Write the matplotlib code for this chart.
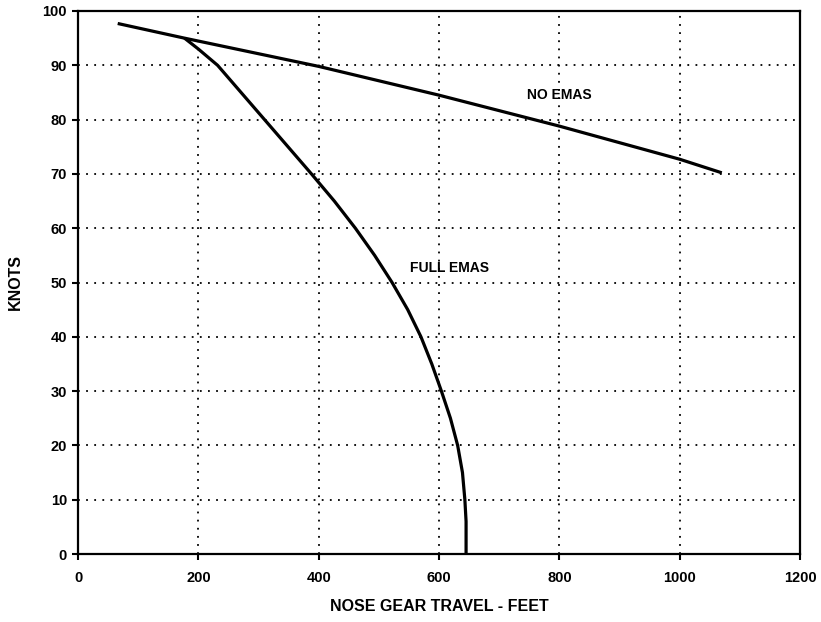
import matplotlib
matplotlib.use("Agg")
import matplotlib.pyplot as plt

# values
no_emas_x = [66, 177, 400, 600, 800, 1000, 1070]
no_emas_y = [97.7, 95.0, 89.8, 84.5, 78.8, 72.7, 70.2]

full_emas_x = [177, 200, 232, 271, 310, 349, 388, 426, 461, 493, 522, 548,
               570, 588, 604, 619, 631, 639, 643, 645, 645]
full_emas_y = [95.0, 93.0, 90, 85, 80, 75, 70, 65, 60, 55, 50, 45,
               40, 35, 30, 25, 20, 15, 10, 6, 0]

x_ticks = [0, 200, 400, 600, 800, 1000, 1200]
y_ticks = [0, 10, 20, 30, 40, 50, 60, 70, 80, 90, 100]

plt.rcParams['font.family'] = ['Liberation Sans', 'DejaVu Sans']
plt.rcParams['font.weight'] = 'bold'

fig = plt.figure(figsize=(8.21, 6.22), dpi=100)
ax = fig.add_axes([78 / 821, 1 - 554 / 622, (800 - 78) / 821, (554 - 11) / 622])

ax.plot(no_emas_x, no_emas_y, color='black', lw=2.3, solid_capstyle='butt',
        solid_joinstyle='round', zorder=3)
ax.plot(full_emas_x, full_emas_y, color='black', lw=2.3, solid_capstyle='butt',
        solid_joinstyle='round', zorder=3)

ax.text(800, 84.5, 'NO EMAS', ha='center', va='center', fontsize=10, fontweight='bold')
ax.text(617, 52.6, 'FULL EMAS', ha='center', va='center', fontsize=10, fontweight='bold')

ax.set_xlim(0, 1200)
ax.set_ylim(0, 100)
ax.set_xticks(x_ticks)
ax.set_yticks(y_ticks)
ax.grid(True, color='black', linestyle=(0, (1, 3.5)), linewidth=1.3)
ax.set_axisbelow(True)

for s in ax.spines.values():
    s.set_linewidth(1.6)
ax.tick_params(direction='out', length=4, width=1.5, labelsize=10.5)
ax.tick_params(axis='x', pad=8)
ax.tick_params(axis='y', pad=4)

ax.set_xlabel('NOSE GEAR TRAVEL - FEET', fontsize=11.5, fontweight='bold', labelpad=10)
ax.set_ylabel('KNOTS', fontsize=11.5, fontweight='bold', labelpad=14)

plt.savefig('out.png', dpi=100)
plt.close(fig)
